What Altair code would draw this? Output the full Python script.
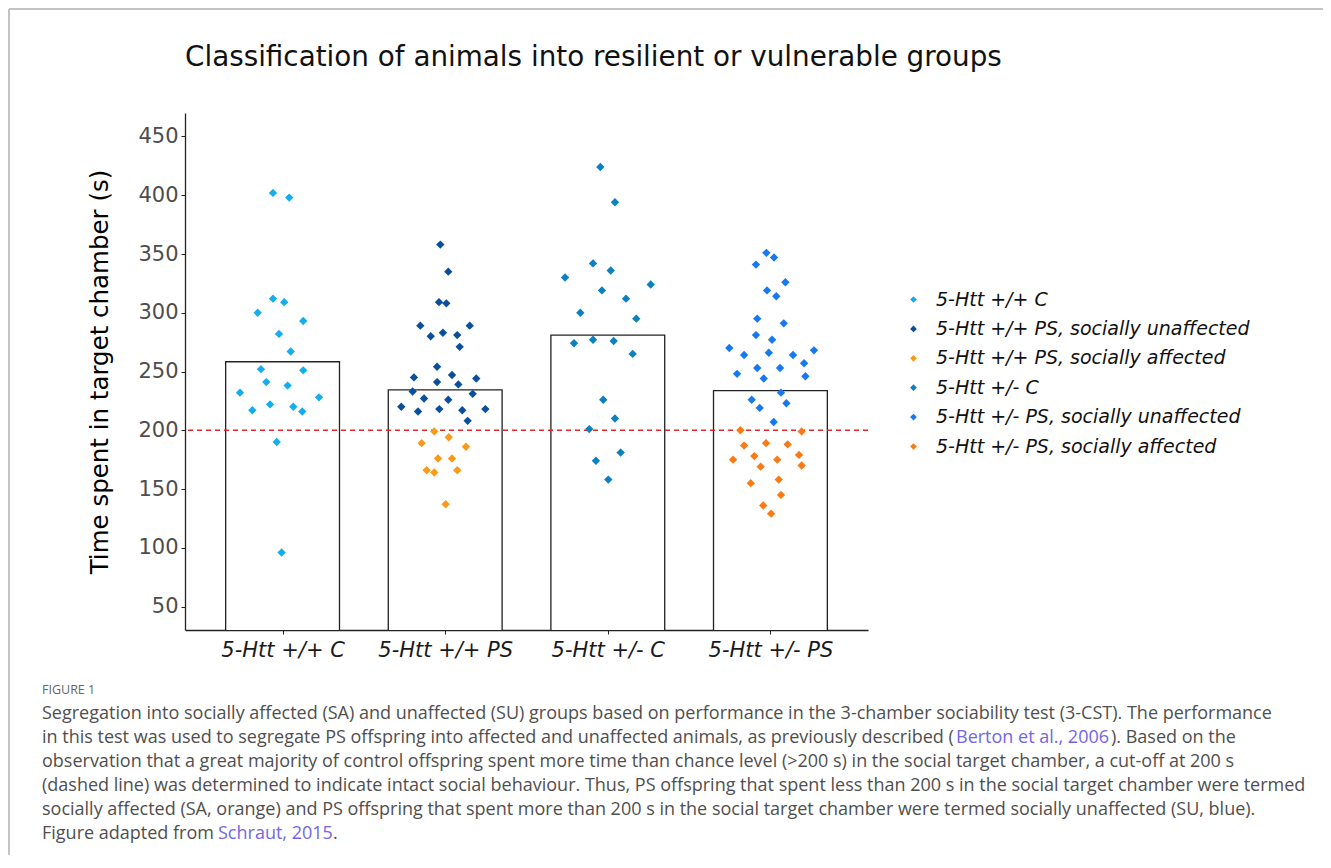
import json
import altair as alt
import pandas as pd

# ---------------- data ----------------
groups = ["5-Htt +/+ C", "5-Htt +/+ PS", "5-Htt +/- C", "5-Htt +/- PS"]
series = [
    "5-Htt +/+ C",
    "5-Htt +/+ PS, socially unaffected",
    "5-Htt +/+ PS, socially affected",
    "5-Htt +/- C",
    "5-Htt +/- PS, socially unaffected",
    "5-Htt +/- PS, socially affected",
]
series_group = [1, 2, 2, 3, 4, 4]
colors = ["#14AEF0", "#0B4F9C", "#F99A1A", "#0D80C2", "#1779F2", "#FA7A14"]

wt_c_time = [402, 398, 312, 309, 300, 293, 282, 267, 252, 251, 241, 238, 232, 228, 217, 222, 220, 216, 190, 96]
wt_c_jit = [-0.059, 0.041, -0.059, 0.010, -0.153, 0.127, -0.022, 0.050, -0.133, 0.127,
            -0.100, 0.031, -0.262, 0.224, -0.186, -0.077, 0.066, 0.121, -0.036, -0.006]

wt_su_time = [358, 335, 309, 308, 289, 289, 283, 280, 281, 271, 254, 245, 247, 244, 241, 239, 233,
              231, 227, 226, 220, 218, 216, 218, 217, 208]
wt_su_jit = [-0.030, 0.019, -0.038, 0.007, -0.153, 0.151, -0.014, -0.089, 0.074, 0.089, -0.050,
             -0.192, 0.042, 0.191, -0.050, 0.081, -0.200, 0.169, -0.130, 0.019, -0.270, 0.247,
             -0.167, -0.036, 0.105, 0.138]

wt_sa_time = [199, 194, 189, 186, 176, 176, 166, 164, 166, 137]
wt_sa_jit = [-0.067, 0.022, -0.145, 0.128, -0.044, 0.042, -0.114, -0.067, 0.074, 0.003]

het_c_time = [424, 394, 342, 336, 330, 324, 319, 312, 300, 295, 274, 277, 276, 265, 226, 210, 201, 181, 174, 158]
het_c_jit = [-0.046, 0.044, -0.091, 0.018, -0.263, 0.264, -0.036, 0.112, -0.169, 0.175, -0.208,
             -0.091, 0.036, 0.153, -0.028, 0.044, -0.114, 0.079, -0.073, 0.003]

het_su_time = [351, 347, 341, 326, 319, 314, 295, 291, 281, 277, 270, 268, 264, 266, 264, 257, 253,
               253, 248, 246, 244, 232, 226, 223, 219, 207]
het_su_jit = [-0.025, 0.022, -0.089, 0.092, -0.021, 0.036, -0.081, 0.082, -0.089, 0.010, -0.253,
              0.268, -0.162, -0.010, 0.139, 0.207, -0.081, 0.059, -0.205, 0.215, -0.041, 0.065,
              -0.115, 0.098, -0.066, 0.020]

het_sa_time = [200, 199, 189, 188, 187, 179, 178, 175, 175, 169, 170, 158, 155, 145, 136, 129]
het_sa_jit = [-0.185, 0.192, -0.027, 0.106, -0.162, 0.176, -0.099, -0.230, 0.042, -0.060, 0.192,
              0.051, -0.121, 0.065, -0.044, 0.004]

cutoff = 200

times = [wt_c_time, wt_su_time, wt_sa_time, het_c_time, het_su_time, het_sa_time]
jits = [wt_c_jit, wt_su_jit, wt_sa_jit, het_c_jit, het_su_jit, het_sa_jit]

rows = []
for s, g, ts, js in zip(series, series_group, times, jits):
    for t, j in zip(ts, js):
        rows.append({"series": s, "group": g, "time": t, "xpos": g + j})
df = pd.DataFrame(rows)

title_text = "Classification of animals into resilient or vulnerable groups"
caption_head = "FIGURE 1"
caption_lines = [
    "Segregation into socially affected (SA) and unaffected (SU) groups based on performance in the 3-chamber sociability test (3-CST). The performance",
    "in this test was used to segregate PS offspring into affected and unaffected animals, as previously described (",
    "observation that a great majority of control offspring spent more time than chance level (>200 s) in the social target chamber, a cut-off at 200 s",
    "(dashed line) was determined to indicate intact social behaviour. Thus, PS offspring that spent less than 200 s in the social target chamber were termed",
    "socially affected (SA, orange) and PS offspring that spent more than 200 s in the social target chamber were termed socially unaffected (SU, blue).",
    "Figure adapted from ",
]
link1, link1_tail = "Berton et al., 2006", "). Based on the"
link2, link2_tail = "Schraut, 2015", "."

# ---------------- chart ----------------
FONT = "DejaVu Sans"
CAP_FONT = "Open Sans"
label_expr = json.dumps(groups) + "[datum.value - 1]"

xscale = alt.Scale(domain=[0.4, 4.6], nice=False, zero=False)
yscale = alt.Scale(domain=[30, 470], nice=False, zero=False)

xaxis = alt.Axis(values=[1, 2, 3, 4], labelExpr=label_expr, title=None, grid=False,
                 labelFont=FONT, labelFontStyle="italic", labelFontSize=21, labelColor="#1a1a1a",
                 domainColor="#222", tickColor="#222", tickSize=4, labelPadding=5, domainWidth=1.3)
yaxis = alt.Axis(values=list(range(50, 451, 50)), title="Time spent in target chamber (s)", grid=False,
                 labelFont=FONT, labelFontSize=21, labelColor="#4D4D4D",
                 titleFont=FONT, titleFontSize=24.5, titleFontWeight="normal", titleColor="black",
                 titlePadding=25, domainColor="#222", tickColor="#222", tickSize=4,
                 labelPadding=3, domainWidth=1.3)

bars = (
    alt.Chart(df)
    .transform_aggregate(mean_time="mean(time)", groupby=["group"])
    .transform_calculate(x1="datum.group - 0.35", x2="datum.group + 0.35")
    .mark_rect(fill="white", stroke="#222", strokeWidth=1.3, clip=True)
    .encode(
        x=alt.X("x1:Q", scale=xscale, axis=xaxis),
        x2="x2:Q",
        y=alt.Y("mean_time:Q", scale=yscale, axis=yaxis),
        y2=alt.datum(0),
    )
)

one = pd.DataFrame({"k": [0]})

cut_rule = alt.Chart(one).mark_rule(color="#E0282A", strokeDash=[5, 4], strokeWidth=1.3).encode(
    y=alt.datum(cutoff)
)

points = alt.Chart(df).mark_point(shape="diamond", filled=True, size=70, opacity=1).encode(
    x=alt.X("xpos:Q", scale=xscale),
    y=alt.Y("time:Q", scale=yscale),
    color=alt.Color(
        "series:N",
        scale=alt.Scale(domain=series, range=colors),
        legend=alt.Legend(
            title=None, orient="none", legendX=719, legendY=177, symbolType="diamond",
            symbolSize=45, symbolStrokeWidth=0, labelFont=FONT, labelFontStyle="italic",
            labelFontSize=19, labelColor="#111", rowPadding=9.4, labelOffset=13, padding=0,
            labelLimit=500,
        ),
    ),
)


def txt(text, x, y, color="#4f4f4f", size=18, font=CAP_FONT, **kw):
    return alt.Chart(one).mark_text(
        text=text, align="left", baseline="middle", font=font, fontSize=size, color=color, **kw
    ).encode(x=alt.value(x), y=alt.value(y))


LINK = "#7466E6"
title_layer = txt(title_text, 0, -55, color="#111", size=27.8, font=FONT)
cap_layers = [txt(caption_head, -143, 577, color="#666", size=12.5)]
ys = [601, 625, 649, 673, 697, 721]
for line, y in zip(caption_lines, ys):
    cap_layers.append(txt(line, -143, y))
cap_layers.append(txt(link1, 771, 625, color=LINK))
cap_layers.append(txt(link1_tail, 926, 625))
cap_layers.append(txt(link2, 33, 721, color=LINK))
cap_layers.append(txt(link2_tail, 148, 721))

border_top = alt.Chart(one).mark_rule(color="#c4c4c4", strokeWidth=2).encode(
    x=alt.value(-176), x2=alt.value(1140), y=alt.value(-104)
)
border_left = alt.Chart(one).mark_rule(color="#c4c4c4", strokeWidth=2).encode(
    x=alt.value(-176), y=alt.value(-104), y2=alt.value(750)
)

chart = (
    alt.layer(bars, cut_rule, points, border_top, border_left, title_layer, *cap_layers)
    .properties(
        width=683,
        height=517,
        autosize=alt.AutoSizeParams(type="none"),
        padding={"left": 177, "top": 105, "right": 455, "bottom": 225},
    )
    .configure(background="white")
    .configure_view(strokeWidth=0, stroke="transparent")
)

chart.save("out.html", embed_options={"renderer": "svg", "actions": False})
